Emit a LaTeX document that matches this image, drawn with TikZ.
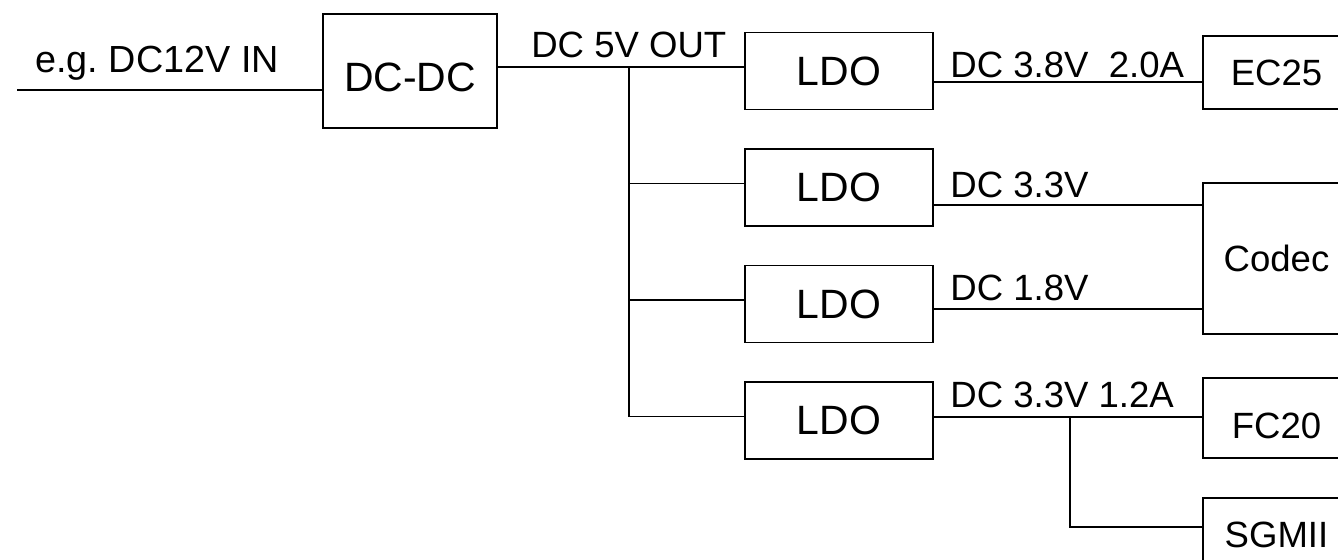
\documentclass[tikz,border=0pt]{standalone}
\usepackage{fontspec}
\setmainfont{Liberation Sans}
\usetikzlibrary{positioning,calc}
\frenchspacing

\begin{document}
\begin{tikzpicture}[
    x=0.2mm, y=-0.2mm,
    box/.style={draw, line width=0.9pt, inner sep=0pt, align=center},
    big/.style={font=\fontsize{23.3}{28}\selectfont},
    mid/.style={font=\fontsize{20.8}{25}\selectfont},
    ldo/.style={box, big, minimum width=37.6mm, minimum height=15.4mm},
    load/.style={box, mid, minimum width=29.4mm},
    lbl/.style={mid, inner sep=0pt, anchor=base west},
    wire/.style={line width=0.8pt},
  ]
  \clip (0,0) rectangle (1338,559);

  % ---- converters
  \node[box, big, minimum width=34.8mm, minimum height=22.8mm, text height=8.2mm, text depth=0pt] (dcdc) at (410,71) {DC-DC};
  \node[ldo] (ldo1) at (839,71) {LDO};
  \node[ldo, below=7.6mm of ldo1] (ldo2) {LDO};
  \node[ldo, below=7.6mm of ldo2] (ldo3) {LDO};
  \node[ldo, below=7.6mm of ldo3] (ldo4) {LDO};

  % ---- loads (cut at the right edge)
  \node[load, minimum height=14.6mm] (ec25) at (1276.5,72.5) {EC25};
  \node[load, minimum height=30.2mm] (codec) at (1276.5,258.5) {Codec};
  \node[load, minimum height=16mm, text height=8mm, text depth=0pt] (fc20) at (1276.5,418) {FC20};
  \node[load, minimum height=14.8mm] (sgmii) at (1276.5,535) {SGMII};

  % ---- input
  \coordinate (vin) at (17,90);
  \draw[wire] (vin) -- (vin -| dcdc.west);
  \node[lbl, font=\fontsize{21.5}{26}\selectfont] (inlbl) at (35,72) {e.g. DC12V IN};

  % ---- 5V rail and bus, taps sit a little above the box centres
  \coordinate (bus) at (629,67);
  \draw[wire] (dcdc.east |- bus) -- (ldo1.west |- bus);
  \draw[wire] (bus) |- ($(ldo4.west)+(0,-4)$);
  \draw[wire] ($(bus |- ldo2.west)+(0,-4)$) -- ($(ldo2.west)+(0,-4)$);
  \draw[wire] ($(bus |- ldo3.west)+(0,-4)$) -- ($(ldo3.west)+(0,-4)$);
  \node[lbl] (l5v) at (531,57) {DC 5V OUT};

  % ---- regulated outputs
  \draw[wire] (ldo1.east |- 0,82) -- (ec25.west |- 0,82);
  \draw[wire] (ldo2.east |- 0,205) -- (codec.west |- 0,205);
  \draw[wire] (ldo3.east |- 0,309) -- (codec.west |- 0,309);
  \coordinate (tap) at (1070,417);
  \draw[wire] (ldo4.east |- tap) -- (fc20.west |- tap);
  \draw[wire] (tap) |- (sgmii.west |- 0,527);

  \node[lbl] (l38) at (950,77) {DC 3.8V~~2.0A};
  \node[lbl] (l33) at (950,197) {DC 3.3V};
  \node[lbl] (l18) at (950,300) {DC 1.8V};
  \node[lbl] (l33b) at (950,407) {DC 3.3V 1.2A};
\end{tikzpicture}
\end{document}
